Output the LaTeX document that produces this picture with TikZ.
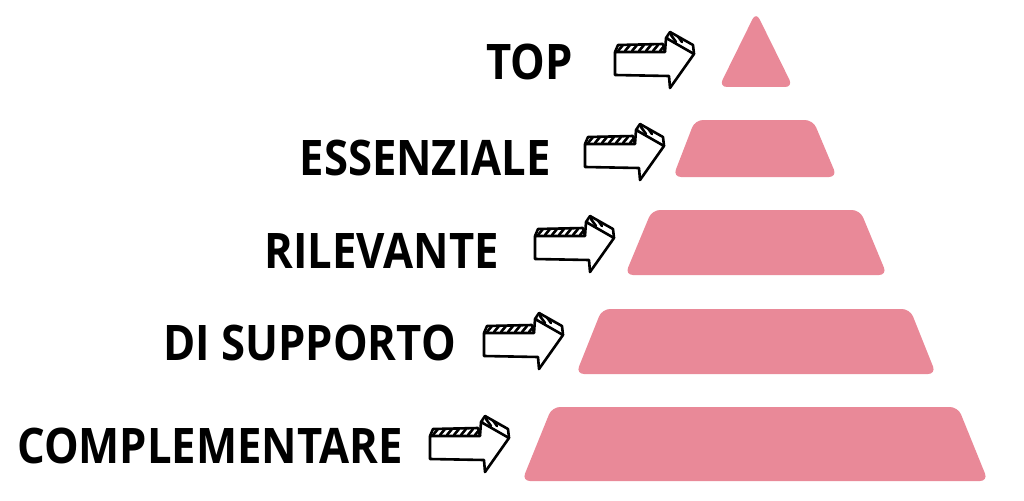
\documentclass[tikz,border=0pt]{standalone}
\usepackage{fontspec}
\setmainfont{Open Sans}
\newfontfamily\tierfont{Open Sans}[FakeStretch=0.89]
\usetikzlibrary{positioning}
\definecolor{tierpink}{RGB}{233,137,152}
\tikzset{%
    tiersty/.style={
        fill=tierpink,
        rounded corners=8pt,
    },
    labelsty/.style={
        anchor=base east,
        inner sep=0pt,
        font=\tierfont\fontsize{49}{49}\selectfont\bfseries,
    },
    arrowsty/.style={
        draw=black,
        line width=2.6pt,
        line join=round,
        fill=white,
    },
    hatchsty/.style={
        black,
        line width=2.6pt,
        line cap=round,
    },
    sketcharrow/.pic={
        % front face
        \draw[arrowsty] (0,-11) -- (50,-11) -- (51,-25) -- (79,-9) -- (55,25) -- (54,13) -- (0,12) -- cycle;
        % top face of the shaft
        \begin{scope}
            \clip (0,-11) -- (3,-18) -- (48,-19) -- (50,-11) -- cycle;
            \foreach \hx in {-4,3,...,52} \draw[hatchsty] (\hx,-12) -- (\hx+5,-18);
        \end{scope}
        \draw[arrowsty,fill=none] (0,-11) -- (3,-18) -- (48,-19) -- (50,-11);
        % top face of the head
        \begin{scope}
            \clip (51,-25) -- (55,-31) -- (78,-18) -- (79,-9) -- cycle;
            \foreach \hx in {50,56,...,80} \draw[hatchsty] (\hx,-28) -- (\hx+5,-21);
        \end{scope}
        \draw[arrowsty,fill=none] (51,-25) -- (55,-31) -- (78,-18) -- (79,-9);
    },
}
\begin{document}
\begin{tikzpicture}[x=1pt,y=-1pt]
\useasboundingbox (0,0) rectangle (1024,500);

% pyramid tiers
\fill[tiersty] (719,87) -- (756,12) -- (793,87) -- cycle;
\fill[tiersty] (673,177) -- (695,120) -- (813,120) -- (837,177) -- cycle;
\fill[tiersty] (625,275) -- (652,210) -- (860,210) -- (887,275) -- cycle;
\fill[tiersty] (576,374) -- (602,309) -- (910,309) -- (936,374) -- cycle;
\fill[tiersty] (522,481) -- (552,407) -- (958,407) -- (988,481) -- cycle;

% sketched arrows
\pic (atop) at (615,63) {sketcharrow};
\pic (aess) at (585,155) {sketcharrow};
\pic (aril) at (535,247) {sketcharrow};
\pic (asup) at (484,344) {sketcharrow};
\pic (acom) at (430,447) {sketcharrow};

% tier labels
\node (ltop) [labelsty] at (573,80) {TOP};
\node (less) [labelsty] at (551,175) {ESSENZIALE};
\node (lril) [labelsty] at (499,268) {RILEVANTE};
\node (lsup) [labelsty] at (456,360) {DI SUPPORTO};
\node (lcom) [labelsty] at (403,463) {COMPLEMENTARE};

\end{tikzpicture}
\end{document}
